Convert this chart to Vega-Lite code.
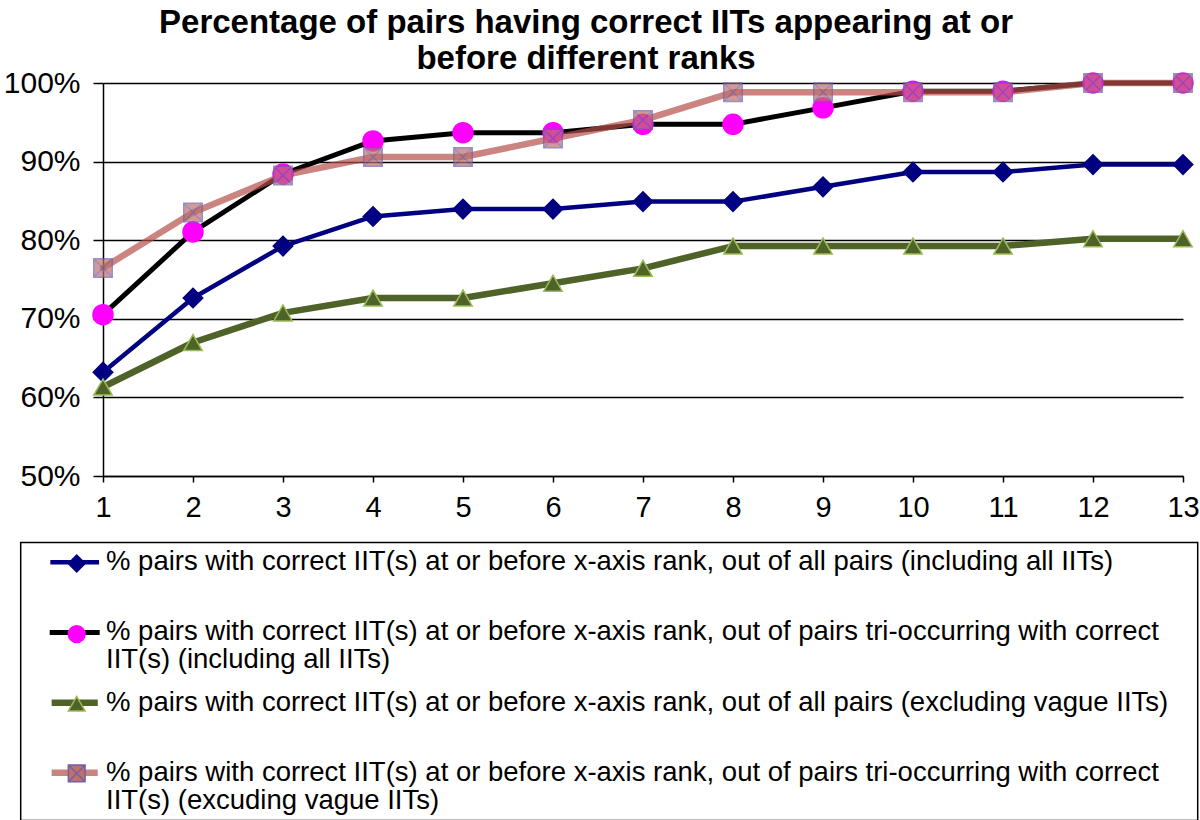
{
  "$schema": "https://vega.github.io/schema/vega-lite/v6.json",
  "width": 1080,
  "height": 393,
  "autosize": {"type": "none"},
  "padding": {"left": 103, "top": 83, "right": 17, "bottom": 344},
  "background": "white",
  "title": {
    "text": ["Percentage of pairs having correct IITs appearing at or", "before different ranks"],
    "font": "Liberation Sans",
    "fontSize": 33,
    "fontWeight": "bold",
    "lineHeight": 36,
    "color": "black",
    "anchor": "middle",
    "frame": "group",
    "dx": -57,
    "dy": 12,
    "offset": 4
  },
  "config": {
    "view": {"stroke": null},
    "font": "Liberation Sans"
  },
  "data": {
    "values": [
      {"rank": 1, "series": "A", "marker": "A", "pct": 0.6321},
      {"rank": 2, "series": "A", "marker": "A", "pct": 0.7264},
      {"rank": 3, "series": "A", "marker": "A", "pct": 0.7925},
      {"rank": 4, "series": "A", "marker": "A", "pct": 0.8302},
      {"rank": 5, "series": "A", "marker": "A", "pct": 0.8396},
      {"rank": 6, "series": "A", "marker": "A", "pct": 0.8396},
      {"rank": 7, "series": "A", "marker": "A", "pct": 0.8491},
      {"rank": 8, "series": "A", "marker": "A", "pct": 0.8491},
      {"rank": 9, "series": "A", "marker": "A", "pct": 0.8679},
      {"rank": 10, "series": "A", "marker": "A", "pct": 0.8868},
      {"rank": 11, "series": "A", "marker": "A", "pct": 0.8868},
      {"rank": 12, "series": "A", "marker": "A", "pct": 0.8962},
      {"rank": 13, "series": "A", "marker": "A", "pct": 0.8962},
      {"rank": 1, "series": "B", "marker": "B", "pct": 0.7053},
      {"rank": 2, "series": "B", "marker": "B", "pct": 0.8105},
      {"rank": 3, "series": "B", "marker": "B", "pct": 0.8842},
      {"rank": 4, "series": "B", "marker": "B", "pct": 0.9263},
      {"rank": 5, "series": "B", "marker": "B", "pct": 0.9368},
      {"rank": 6, "series": "B", "marker": "B", "pct": 0.9368},
      {"rank": 7, "series": "B", "marker": "B", "pct": 0.9474},
      {"rank": 8, "series": "B", "marker": "B", "pct": 0.9474},
      {"rank": 9, "series": "B", "marker": "B", "pct": 0.9684},
      {"rank": 10, "series": "B", "marker": "B", "pct": 0.9895},
      {"rank": 11, "series": "B", "marker": "B", "pct": 0.9895},
      {"rank": 12, "series": "B", "marker": "B", "pct": 1.0},
      {"rank": 13, "series": "B", "marker": "B", "pct": 1.0},
      {"rank": 1, "series": "C", "marker": "C", "pct": 0.6132},
      {"rank": 2, "series": "C", "marker": "C", "pct": 0.6698},
      {"rank": 3, "series": "C", "marker": "C", "pct": 0.7075},
      {"rank": 4, "series": "C", "marker": "C", "pct": 0.7264},
      {"rank": 5, "series": "C", "marker": "C", "pct": 0.7264},
      {"rank": 6, "series": "C", "marker": "C", "pct": 0.7453},
      {"rank": 7, "series": "C", "marker": "C", "pct": 0.7642},
      {"rank": 8, "series": "C", "marker": "C", "pct": 0.7925},
      {"rank": 9, "series": "C", "marker": "C", "pct": 0.7925},
      {"rank": 10, "series": "C", "marker": "C", "pct": 0.7925},
      {"rank": 11, "series": "C", "marker": "C", "pct": 0.7925},
      {"rank": 12, "series": "C", "marker": "C", "pct": 0.8019},
      {"rank": 13, "series": "C", "marker": "C", "pct": 0.8019},
      {"rank": 1, "series": "D", "marker": "D", "pct": 0.7647},
      {"rank": 2, "series": "D", "marker": "D", "pct": 0.8353},
      {"rank": 3, "series": "D", "marker": "D", "pct": 0.8824},
      {"rank": 4, "series": "D", "marker": "D", "pct": 0.9059},
      {"rank": 5, "series": "D", "marker": "D", "pct": 0.9059},
      {"rank": 6, "series": "D", "marker": "D", "pct": 0.9294},
      {"rank": 7, "series": "D", "marker": "D", "pct": 0.9529},
      {"rank": 8, "series": "D", "marker": "D", "pct": 0.9882},
      {"rank": 9, "series": "D", "marker": "D", "pct": 0.9882},
      {"rank": 10, "series": "D", "marker": "D", "pct": 0.9882},
      {"rank": 11, "series": "D", "marker": "D", "pct": 0.9882},
      {"rank": 12, "series": "D", "marker": "D", "pct": 1.0},
      {"rank": 13, "series": "D", "marker": "D", "pct": 1.0}
    ]
  },
  "encoding": {
    "x": {
      "field": "rank",
      "type": "quantitative",
      "scale": {"domain": [1, 13], "nice": false, "zero": false},
      "axis": {
        "title": null,
        "values": [1, 2, 3, 4, 5, 6, 7, 8, 9, 10, 11, 12, 13],
        "grid": false,
        "domainColor": "black",
        "domainWidth": 1.5,
        "tickColor": "black",
        "tickWidth": 1.5,
        "tickSize": 6,
        "labelFont": "Liberation Sans",
        "labelFontSize": 29,
        "labelColor": "black",
        "labelPadding": 11,
        "labelFlush": false,
        "labelOverlap": false,
        "labelBound": false
      }
    },
    "y": {
      "field": "pct",
      "type": "quantitative",
      "scale": {"domain": [0.5, 1], "nice": false, "zero": false},
      "axis": {
        "title": null,
        "values": [0.5, 0.6, 0.7, 0.8, 0.9, 1.0],
        "format": ".0%",
        "grid": true,
        "gridColor": "black",
        "gridWidth": 1.5,
        "gridOpacity": 1,
        "domainColor": "black",
        "domainWidth": 1.5,
        "tickColor": "black",
        "tickWidth": 1.5,
        "tickSize": 10,
        "labelFont": "Liberation Sans",
        "labelFontSize": 30,
        "labelColor": "black",
        "labelPadding": 13,
        "labelOverlap": false,
        "labelBound": false
      }
    }
  },
  "layer": [
    {
      "mark": {"type": "line", "strokeJoin": "round", "strokeCap": "round"},
      "encoding": {
        "color": {
          "field": "series",
          "type": "nominal",
          "scale": {"domain": ["A", "B", "C", "D"], "range": ["#000080", "#000000", "#4f6228", "#b5504a"]},
          "legend": {
            "orient": "none",
            "legendX": -82.3,
            "legendY": 459.5,
            "direction": "vertical",
            "title": null,
            "symbolType": "M-2.5,0H2.5",
            "symbolSize": 467,
            "symbolStrokeWidth": 5,
            "symbolOffset": 34.25,
            "labelOffset": 17.55,
            "padding": 6,
            "strokeColor": "black",
            "labelFont": "Liberation Sans",
            "labelFontSize": 27.5,
            "labelColor": "black",
            "labelLimit": 3000,
            "labelBaseline": "middle",
            "rowPadding": 13.2,
            "labelExpr": "datum.value == 'A' ? ['% pairs with correct IIT(s) at or before x-axis rank, out of all pairs (including all IITs)', ''] : datum.value == 'B' ? ['% pairs with correct IIT(s) at or before x-axis rank, out of pairs tri-occurring with correct', 'IIT(s) (including all IITs)'] : datum.value == 'C' ? ['% pairs with correct IIT(s) at or before x-axis rank, out of all pairs (excluding vague IITs)\u00a0\u00a0\u00a0\u200b', ''] : ['% pairs with correct IIT(s) at or before x-axis rank, out of pairs tri-occurring with correct', 'IIT(s) (excuding vague IITs)']",
            "encode": {
              "labels": {"update": {"lineHeight": {"value": 28}}},
              "symbols": {"update": {"opacity": {"signal": "datum.value == 'D' ? 0.7 : 1"}}},
              "legend": {"update": {"strokeWidth": {"value": 1.5}}}
            }
          }
        },
        "strokeWidth": {
          "field": "series",
          "type": "ordinal",
          "scale": {"type": "ordinal", "domain": ["A", "B", "C", "D"], "range": [4.5, 5, 6.5, 6.5]},
          "legend": null
        },
        "opacity": {
          "field": "series",
          "type": "ordinal",
          "scale": {"type": "ordinal", "domain": ["A", "B", "C", "D"], "range": [1, 1, 1, 0.7]},
          "legend": null
        }
      }
    },
    {
      "mark": {"type": "point", "filled": true, "strokeWidth": 1.5},
      "encoding": {
        "shape": {
          "field": "marker",
          "type": "nominal",
          "scale": {"range": ["diamond", "circle", "triangle-up", "M-1,-1H1V1H-1Z M-1,-1L1,1 M1,-1L-1,1"]},
          "legend": {
            "orient": "none",
            "legendX": -82.3,
            "legendY": 465,
            "direction": "vertical",
            "title": null,
            "symbolSize": 280,
            "symbolStrokeWidth": 1.5,
            "symbolOpacity": 1,
            "symbolOffset": 40.5,
            "labelOffset": 4,
            "padding": 6,
            "labelFontSize": 1,
            "labelExpr": "''",
            "rowPadding": 47.6,
            "encode": {
              "symbols": {"update": {
                "opacity": {"signal": "datum.value == 'D' ? 0.75 : 1"},
                "fillOpacity": {"value": 1},
                "strokeOpacity": {"value": 1}
              }}
            }
          }
        },
        "fill": {
          "field": "marker",
          "type": "nominal",
          "scale": {"range": ["#000080", "#ff00ff", "#4f6228", "#c07068"]},
          "legend": {
            "orient": "none",
            "legendX": -82.3,
            "legendY": 465,
            "direction": "vertical",
            "title": null,
            "symbolSize": 280,
            "symbolStrokeWidth": 1.5,
            "symbolOpacity": 1,
            "symbolOffset": 40.5,
            "labelOffset": 4,
            "padding": 6,
            "labelFontSize": 1,
            "labelExpr": "''",
            "rowPadding": 47.6
          }
        },
        "stroke": {
          "field": "marker",
          "type": "nominal",
          "scale": {"range": ["#000080", "#ff00ff", "#9bbb59", "#7060a8"]},
          "legend": {
            "orient": "none",
            "legendX": -82.3,
            "legendY": 465,
            "direction": "vertical",
            "title": null,
            "symbolSize": 280,
            "symbolStrokeWidth": 1.5,
            "symbolOpacity": 1,
            "symbolOffset": 40.5,
            "labelOffset": 4,
            "padding": 6,
            "labelFontSize": 1,
            "labelExpr": "''",
            "rowPadding": 47.6
          }
        },
        "size": {
          "field": "series",
          "type": "ordinal",
          "scale": {"type": "ordinal", "domain": ["A", "B", "C", "D"], "range": [380, 400, 340, 340]},
          "legend": null
        },
        "opacity": {
          "field": "series",
          "type": "ordinal",
          "scale": {"type": "ordinal", "domain": ["A", "B", "C", "D"], "range": [1, 1, 1, 0.7]},
          "legend": null
        }
      }
    }
  ]
}
